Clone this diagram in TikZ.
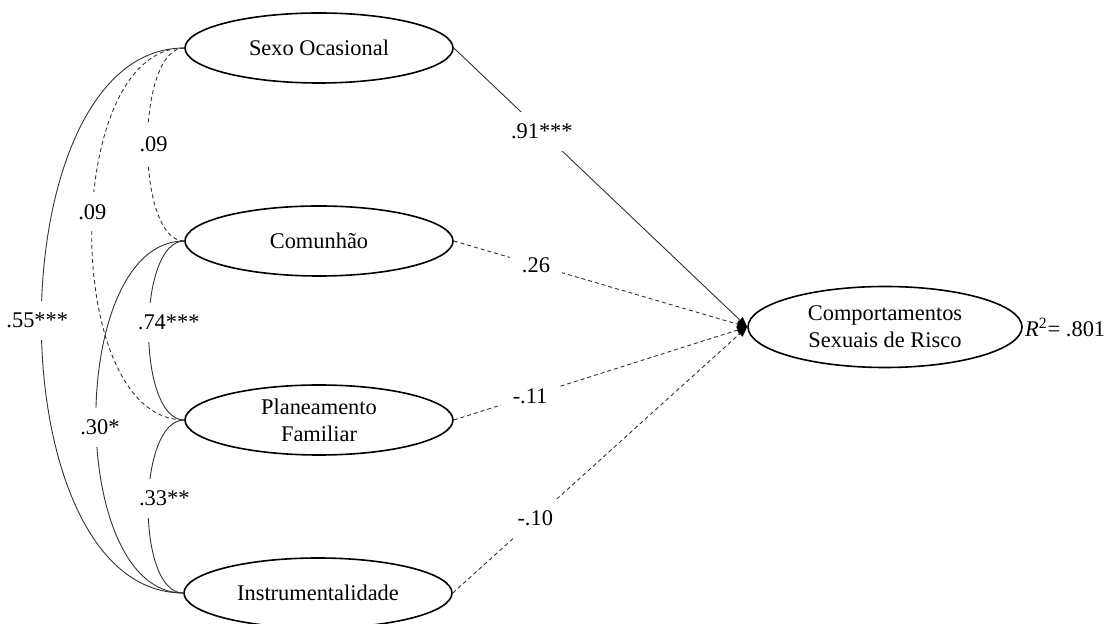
\documentclass[tikz,border=0pt]{standalone}
\usepackage{fontspec}
\setmainfont{Liberation Serif}
\usetikzlibrary{shapes.geometric,arrows.meta}
\begin{document}
\begin{tikzpicture}[x=0.5pt,y=-0.5pt,
    font=\fontsize{11.2}{13.5}\selectfont,
    latent/.style={ellipse,draw,line width=0.8pt,inner sep=0pt,
      minimum width=134pt,minimum height=35pt,align=center},
    effect/.style={black!80,line width=0.45pt,
      -{Triangle[length=5pt,width=4pt,color=black]}},
    cov/.style={black!80,line width=0.45pt},
    ns/.style={dash pattern=on 2pt off 1.5pt},
    coef/.style={fill=white,inner sep=6pt,text=black}]
  \useasboundingbox (0,0) rectangle (1109,624);
  % latent factors
  \node[latent] (sexo) at (319,48) {Sexo Ocasional};
  \node[latent] (comu) at (319,241) {Comunhão};
  \node[latent] (plan) at (319,420) {Planeamento\\Familiar};
  \node[latent] (inst) at (318,593) {Instrumentalidade};
  \node[latent,minimum width=137pt,minimum height=40.5pt] (comp) at (885,327)
    {Comportamentos\\Sexuais de Risco};
  \node[anchor=west,fill=white,inner sep=1pt] (r2) at (comp.east)
    {\textit{R}\textsuperscript{2}= .801};
  % correlations
  \draw[cov] (sexo.west) to[out=180,in=180,looseness=0.89]
    node[coef,pos=0.5,xshift=-2pt] {.55***} (inst.west);
  \draw[cov,ns] (sexo.west) to[out=180,in=180,looseness=0.85]
    node[coef,pos=0.46] {.09} (plan.west);
  \draw[cov,ns] (sexo.west) to[out=180,in=180,looseness=0.65]
    node[coef,pos=0.5,xshift=3pt] {.09} (comu.west);
  \draw[cov] (comu.west) to[out=180,in=180,looseness=0.85]
    node[coef,pos=0.52,xshift=2pt] {.30*} (inst.west);
  \draw[cov] (comu.west) to[out=180,in=180,looseness=0.68]
    node[coef,pos=0.47,xshift=10pt] {.74***} (plan.west);
  \draw[cov] (plan.west) to[out=180,in=180,looseness=0.7]
    node[coef,pos=0.47,xshift=8pt] {.33**} (inst.west);
  % paths
  \draw[effect] (sexo.east) -- node[coef,pos=0.3] {.91***} (comp.west);
  \draw[effect,ns] (comu.east) -- node[coef,pos=0.28] {.26} (comp.west);
  \draw[effect,ns] (plan.east) -- node[coef,pos=0.26] {-.11} (comp.west);
  \draw[effect,ns] (inst.east) -- node[coef,pos=0.28] {-.10} (comp.west);
\end{tikzpicture}
\end{document}
